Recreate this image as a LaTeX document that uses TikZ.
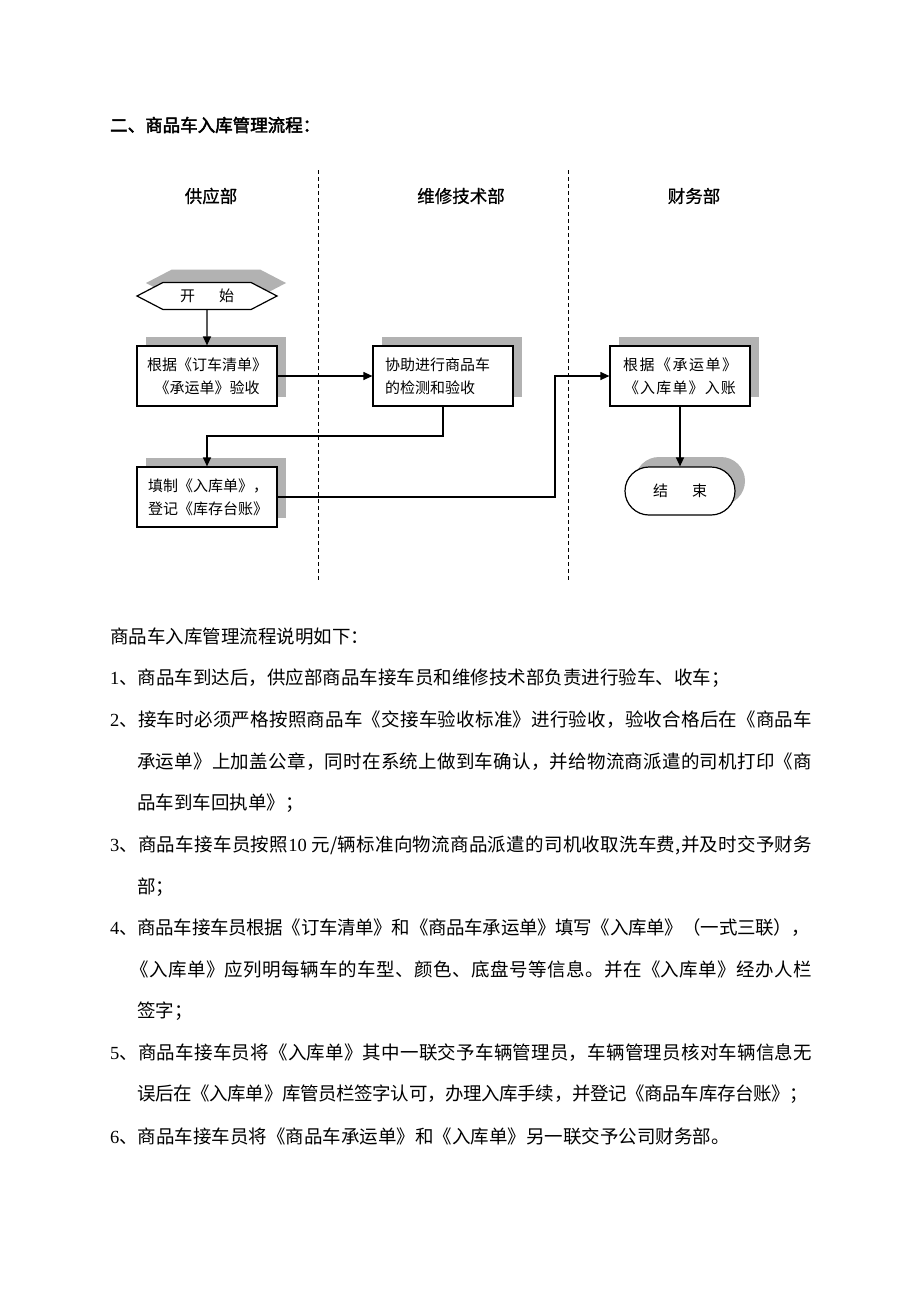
\documentclass[tikz,border=0pt]{standalone}
\usepackage{fontspec}
\setmainfont{Noto Sans CJK SC}
\newfontfamily\titlefont{Noto Sans CJK SC}[FakeBold=2.5]
\newfontfamily\headfont{Noto Sans CJK SC}[FakeBold=0.8]
\newfontfamily\numfont{Liberation Serif}
\usetikzlibrary{arrows.meta,shapes.symbols,shadows}

\makeatletter
\def\spreadit#1{\spread@first#1\relax}
\def\spread@first#1{#1\spread@aux}
\def\spread@aux#1{\ifx\relax#1\else\hskip 0pt plus 1fil minus 0.6pt\relax #1\expandafter\spread@aux\fi}
\makeatother
\newcommand\jl[3][]{\hbox to #2{#1\spreadit{#3}}}
\newcommand\nm[1]{{\numfont #1}}
\newcommand\numten{{\numfont 10}}

\tikzset{
  body/.style={anchor=west, inner sep=0pt, font=\fontsize{18.5}{22}\selectfont},
  lanehead/.style={inner sep=0pt, font=\fontsize{17.5}{20}\selectfont\headfont},
  lane/.style={line width=0.9pt, dash pattern=on 4pt off 3pt},
  shad/.style={general shadow={shadow xshift=9pt, shadow yshift=9pt, fill=black!30}},
  procbox/.style={draw, line width=1.2pt, fill=white, minimum width=140pt, minimum height=60pt,
    inner sep=0pt, font=\fontsize{15}{23}\selectfont, shad},
  term/.style={draw, line width=1.2pt, fill=white, inner sep=0pt, font=\fontsize{15}{18}\selectfont},
  arr/.style={line width=1.2pt, -{Triangle[length=9pt,width=8pt]}},
}

\begin{document}
\begin{tikzpicture}[x=1pt, y=-1pt]
\useasboundingbox[fill=white] (0,0) rectangle (920,1302);

% title
\node[anchor=west, inner sep=0pt, font=\fontsize{17.5}{20}\selectfont] (title) at (110,125) {\titlefont 二、商品车入库管理流程：};

% lane headers and dividers
\node[lanehead] (h1) at (211,196) {供应部};
\node[lanehead] (h2) at (461,196) {维修技术部};
\node[lanehead] (h3) at (694,196) {财务部};
\draw[lane] (318,170) -- (318,580);
\draw[lane] (568,170) -- (568,580);

% nodes
\node[term, shape=signal, signal to=west and east, signal pointer angle=55,
      minimum width=140pt, minimum height=27pt,
      general shadow={shadow xshift=9pt, shadow yshift=13pt, fill=black!30}] (start) at (207,296)
      {开\hspace{1.6em}始};
\node[procbox, align=center] (b1) at (207,376) {根据《订车清单》\\《承运单》验收};
\node[procbox, align=left, text width=116pt] (b2) at (443,376) {协助进行商品车\\的检测和验收};
\node[procbox, align=center] (b3) at (680,376) {\jl{114pt}{根据《承运单》}\\\jl{112pt}{《入库单》入账}};
\node[procbox, align=left, text width=118pt] (b4) at (207,497) {填制《入库单》，\\登记《库存台账》};
\node[term, rounded corners=24pt, minimum width=110pt, minimum height=48pt,
      general shadow={shadow xshift=10pt, shadow yshift=10pt, fill=black!30}] (end) at (680,491)
      {结\hspace{1.6em}束};

% connectors
\coordinate (jx) at (555,436);
\draw[arr] (start) -- (b1);
\draw[arr] (b1) -- (b2);
\draw[arr] (b2.south) -- (b2.south |- jx) -| (b4.north);
\draw[arr] (b4.east) -- (b4.east -| jx) |- (b3.west);
\draw[arr] (b3) -- (end);

% body text
\node[body] (t0) at (110,636) {商品车入库管理流程说明如下：};
\node[body] (t1) at (110,678) {\nm{1}、商品车到达后，供应部商品车接车员和维修技术部负责进行验车、收车；};
\node[body] (t2) at (110,720) {\jl[\nm{2}]{702pt}{、接车时必须严格按照商品车《交接车验收标准》进行验收，验收合格后在《商品车}};
\node[body] (t3) at (137,762) {\jl{675pt}{承运单》上加盖公章，同时在系统上做到车确认，并给物流商派遣的司机打印《商}};
\node[body] (t4) at (137,803) {品车到车回执单》；};
\node[body] (t5) at (110,845) {\jl[\nm{3}]{702pt}{、商品车接车员按照\numten\ 元/辆标准向物流商品派遣的司机收取洗车费,并及时交予财务}};
\node[body] (t6) at (137,887) {部；};
\node[body] (t7) at (110,928) {\jl[\nm{4}]{700pt}{、商品车接车员根据《订车清单》和《商品车承运单》填写《入库单》（一式三联），}};
\node[body] (t8) at (130,969) {\jl{682pt}{《入库单》应列明每辆车的车型、颜色、底盘号等信息。并在《入库单》经办人栏}};
\node[body] (t9) at (137,1011) {签字；};
\node[body] (t10) at (110,1053) {\jl[\nm{5}]{702pt}{、商品车接车员将《入库单》其中一联交予车辆管理员，车辆管理员核对车辆信息无}};
\node[body] (t11) at (137,1094) {\jl{671pt}{误后在《入库单》库管员栏签字认可，办理入库手续，并登记《商品车库存台账》；}};
\node[body] (t12) at (110,1136) {\nm{6}、商品车接车员将《商品车承运单》和《入库单》另一联交予公司财务部。};
\end{tikzpicture}
\end{document}
